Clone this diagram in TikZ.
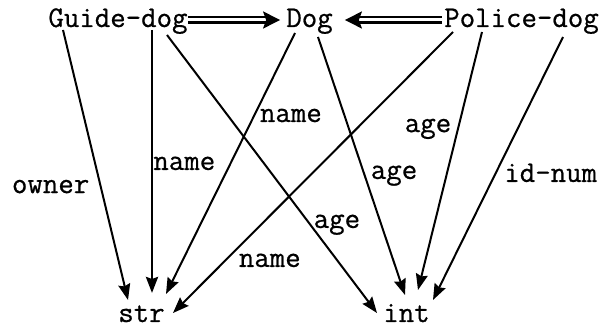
\documentclass[tikz,border=0pt]{standalone}
\usepackage{fontspec}
\newfontfamily\lblfont[FakeBold=0.7]{Latin Modern Mono}
\usetikzlibrary{arrows.meta}
\begin{document}
\begin{tikzpicture}[x=1pt,y=-1pt,
  every node/.style={inner sep=0pt,font=\fontsize{30}{36}\selectfont\lblfont},
  cls/.style={anchor=base},
  edge/.style={line width=2pt,-{Stealth[length=16pt,width=12pt,inset=2pt]}},
  dbl/.style={line width=2.2pt,double distance=3pt,-{Stealth[length=17pt,width=17pt,inset=3pt]}}]
\useasboundingbox (0,0) rectangle (605,328);
\node[cls] (gd) at (118,27) {Guide-dog};
\node[cls] (dog) at (309.5,27) {Dog};
\node[cls] (pd) at (521.5,27) {Police-dog};
\node[cls] (str) at (141.5,322) {str};
\node[cls] (int) at (406.5,322) {int};

\draw[dbl] ([shift={(0,-7)}]gd.base east) -- ([shift={(-6,-7)}]dog.base west);
\draw[dbl] ([shift={(-2,-7)}]pd.base west) -- ([shift={(12,-7)}]dog.base east);

\draw[edge] ([shift={(-55,3)}]gd.base) -- node[pos=0.604,anchor=base east,xshift=-12pt]{owner} ([shift={(-13.5,-22)}]str.base);
\draw[edge,line width=2.8pt] ([shift={(34,3)}]gd.base) -- node[pos=0.532,anchor=base west,xshift=0pt]{name} ([shift={(10.5,-29)}]str.base);
\draw[edge] ([shift={(49,8)}]gd.base) -- node[pos=0.694,anchor=base west,xshift=0pt]{age} ([shift={(-29.5,-9)}]int.base);
\draw[edge] ([shift={(-14.5,6)}]dog.base) -- node[pos=0.341,anchor=base west,xshift=8pt]{name} ([shift={(24.5,-28)}]str.base);
\draw[edge] ([shift={(8.5,10)}]dog.base) -- node[pos=0.55,anchor=base west,xshift=4pt]{age} ([shift={(-1.5,-27)}]int.base);
\draw[edge] ([shift={(-68.5,5)}]pd.base) -- node[pos=0.836,anchor=base west,xshift=19pt]{name} ([shift={(31.5,-9)}]str.base);
\draw[edge] ([shift={(-39.5,5)}]pd.base) -- node[pos=0.388,anchor=base east,xshift=-5pt]{age} ([shift={(11.5,-32)}]int.base);
\draw[edge] ([shift={(41.5,10)}]pd.base) -- node[pos=0.551,anchor=base west,xshift=12pt]{id-num} ([shift={(26.5,-22)}]int.base);
\end{tikzpicture}
\end{document}
